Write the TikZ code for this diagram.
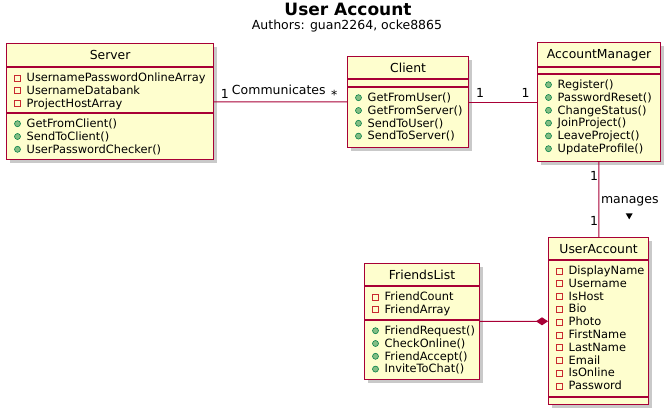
\documentclass[tikz,border=0pt]{standalone}
\usepackage{fontspec}
\setmainfont{DejaVu Sans}
\usetikzlibrary{arrows.meta,shadows}

\definecolor{umlfill}{HTML}{FEFECE}
\definecolor{umlline}{HTML}{A80036}
\definecolor{privred}{HTML}{C82930}
\definecolor{pubfill}{HTML}{84BE84}
\definecolor{publine}{HTML}{038048}

\tikzset{
  classbox/.style={draw=umlline, fill=umlfill, line width=1.2pt, anchor=north west,
    inner sep=0pt, drop shadow={shadow xshift=3pt, shadow yshift=-3pt, opacity=0.3, fill=black!70}},
  classname/.style={anchor=base, inner sep=0pt, font=\fontsize{12.4}{14}\selectfont},
  member/.style={anchor=base west, inner sep=0pt, font=\fontsize{11.4}{13}\selectfont},
  lbl/.style={anchor=base, inner sep=0pt, font=\fontsize{12.5}{15}\selectfont},
  sep/.style={draw=umlline, line width=1.2pt},
  assoc/.style={draw=umlline, line width=1pt},
}

% fields: name prefix, box left, first baseline, list
\newcommand{\fieldlist}[4]{%
  \foreach \t [count=\i from 0] in {#4} {
    \pgfmathsetmacro{\yb}{#3+12.8*\i}
    \draw[privred, line width=0.8pt] (#2+8.5,\yb-6.5) rectangle (#2+14.5,\yb-0.5);
    \node[member] (#1\i) at (#2+20.5,\yb) {\t};
  }}
% methods: name prefix, box left, first baseline, list
\newcommand{\methodlist}[4]{%
  \foreach \t [count=\i from 0] in {#4} {
    \pgfmathsetmacro{\yb}{#3+12.8*\i}
    \draw[publine, fill=pubfill, line width=0.6pt] (#2+11.5,\yb-3.8) circle (3pt);
    \node[member] (#1\i) at (#2+20.5,\yb) {\t};
  }}

\begin{document}
\begin{tikzpicture}[x=1pt, y=-1pt]
\useasboundingbox (0,0) rectangle (670,415);

% title
\node[anchor=base, font=\bfseries\fontsize{17}{20}\selectfont] (title) at (348,16) {User Account};
\node[anchor=base, font=\fontsize{12.5}{15}\selectfont] (authors) at (347,30) {Authors: guan2264, ocke8865};

% Server
\node[classbox, minimum width=207pt, minimum height=116pt] (server) at (6,43) {};
\node[classname] (servername) at ([yshift=-16.8pt]server.north) {Server};
\draw[sep] ([yshift=-24pt]server.north west) -- ([yshift=-24pt]server.north east);
\draw[sep] ([yshift=-70pt]server.north west) -- ([yshift=-70pt]server.north east);
\fieldlist{srvf}{6}{81.5}{UsernamePasswordOnlineArray, UsernameDatabank, ProjectHostArray}
\methodlist{srvm}{6}{127.5}{GetFromClient(), SendToClient(), UserPasswordChecker()}

% Client
\node[classbox, minimum width=121pt, minimum height=91pt] (client) at (347,56) {};
\node[classname] (clientname) at ([yshift=-16.8pt]client.north) {Client};
\draw[sep] ([yshift=-23pt]client.north west) -- ([yshift=-23pt]client.north east);
\draw[sep] ([yshift=-31pt]client.north west) -- ([yshift=-31pt]client.north east);
\methodlist{clim}{347}{101.5}{GetFromUser(), GetFromServer(), SendToUser(), SendToServer()}

% AccountManager
\node[classbox, minimum width=123pt, minimum height=119pt] (accmgr) at (537,42) {};
\node[classname] (accmgrname) at ([yshift=-16.8pt]accmgr.north) {AccountManager};
\draw[sep] ([yshift=-25pt]accmgr.north west) -- ([yshift=-25pt]accmgr.north east);
\draw[sep] ([yshift=-32pt]accmgr.north west) -- ([yshift=-32pt]accmgr.north east);
\methodlist{amm}{537}{88.5}{Register(), PasswordReset(), ChangeStatus(), JoinProject(), LeaveProject(), UpdateProfile()}

% UserAccount
\node[classbox, minimum width=100pt, minimum height=167pt] (useracc) at (548,237) {};
\node[classname] (useraccname) at ([yshift=-16.8pt]useracc.north) {UserAccount};
\draw[sep] ([yshift=-23pt]useracc.north west) -- ([yshift=-23pt]useracc.north east);
\draw[sep] ([yshift=-160pt]useracc.north west) -- ([yshift=-160pt]useracc.north east);
\fieldlist{uaf}{548}{274.5}{DisplayName, Username, IsHost, Bio, Photo, FirstName, LastName, Email, IsOnline, Password}

% FriendsList
\node[classbox, minimum width=115pt, minimum height=116pt] (friends) at (364,263) {};
\node[classname] (friendsname) at ([yshift=-16.8pt]friends.north) {FriendsList};
\draw[sep] ([yshift=-23pt]friends.north west) -- ([yshift=-23pt]friends.north east);
\draw[sep] ([yshift=-57pt]friends.north west) -- ([yshift=-57pt]friends.north east);
\fieldlist{flf}{364}{300.5}{FriendCount, FriendArray}
\methodlist{flm}{364}{334.5}{FriendRequest(), CheckOnline(), FriendAccept(), InviteToChat()}

% relations
\draw[assoc] (server) -- (client);
\node[lbl] (srvmult) at (224.8,98.3) {1};
\node[lbl] (commlbl) at (278.8,94) {Communicates};
\node[lbl] (climult) at (334.2,99.5) {*};

\draw[assoc] (client) -- (accmgr);
\node[lbl] (climult2) at (480,97.3) {1};
\node[lbl] (ammult) at (525.7,97.3) {1};

\draw[assoc] (accmgr) -- (useracc);
\node[lbl] (ammult2) at (594.2,180) {1};
\node[lbl] (managelbl) at (629.8,203.3) {manages};
\fill (625.7,213.3) -- (632.7,213.3) -- (629.2,219.3) -- cycle;
\node[lbl] (uamult) at (594.2,225) {1};

\draw[assoc, -{Diamond[length=12pt, width=8pt]}] (friends) -- (useracc);
\end{tikzpicture}
\end{document}
